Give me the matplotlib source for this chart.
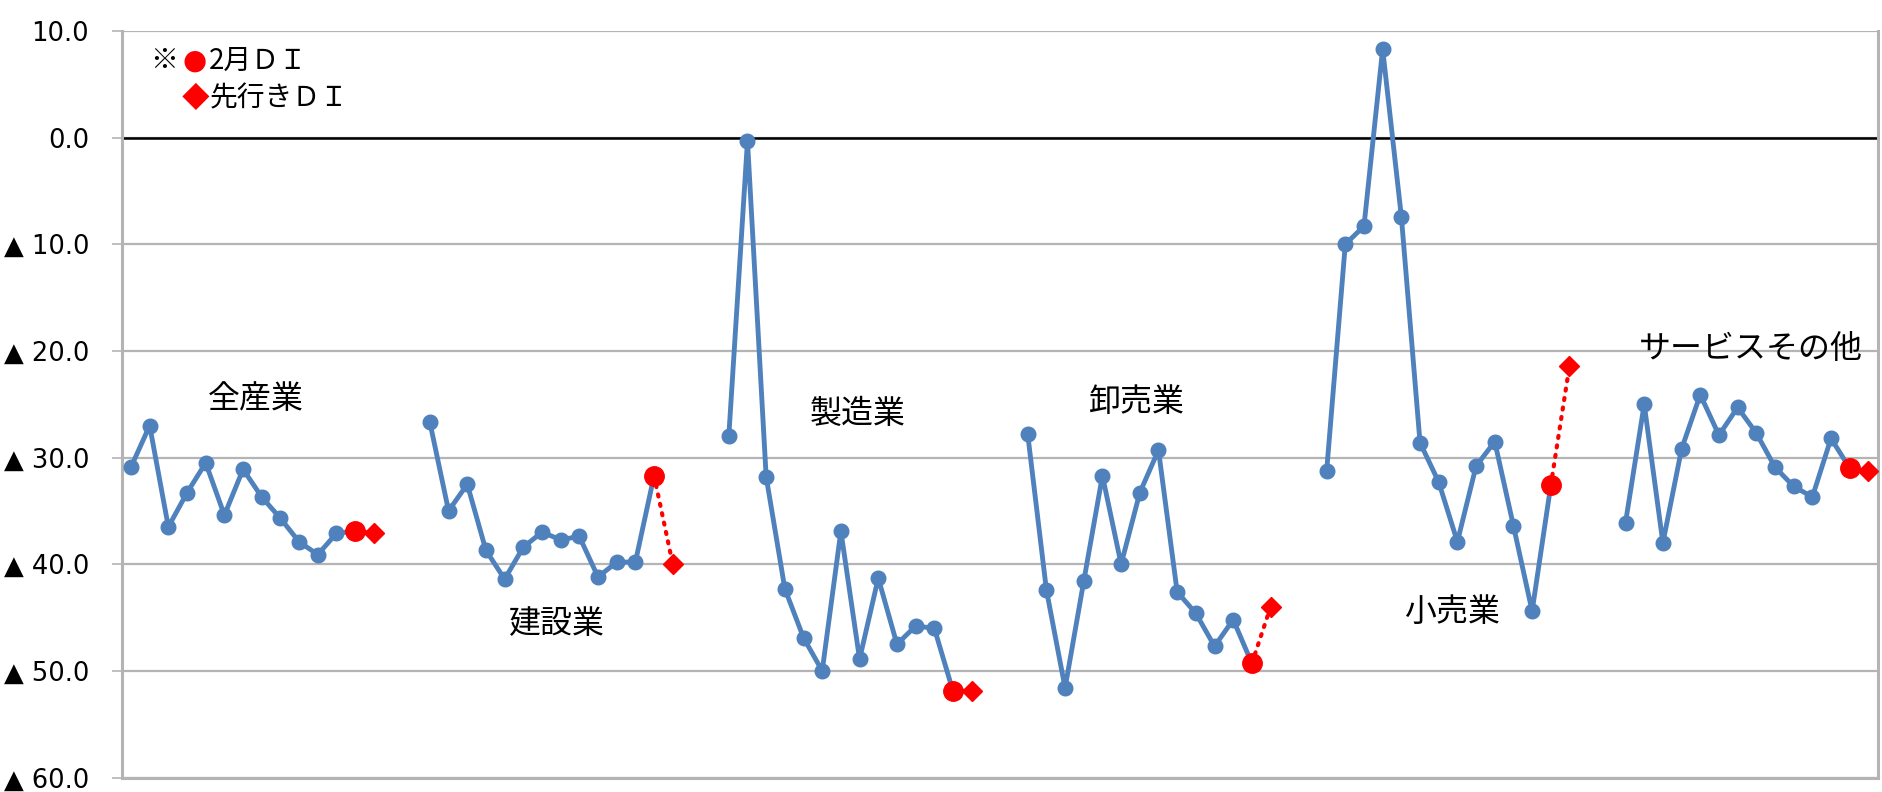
# 業種別DIの推移（過去12か月 + 2月DI + 先行きDI）
import matplotlib
matplotlib.use("Agg")
from matplotlib import pyplot as plt
from matplotlib.ticker import FuncFormatter, MultipleLocator

plt.rcParams['font.family'] = ['Noto Sans CJK JP', 'DejaVu Sans']

industries = ["全産業", "建設業", "製造業", "卸売業", "小売業", "サービスその他"]

# 過去12か月のDI（業種別）
past_all = [-30.9, -27.0, -36.5, -33.3, -30.5, -35.4, -31.1, -33.7, -35.7, -37.9, -39.1, -37.1]
past_const = [-26.7, -35.0, -32.5, -38.7, -41.4, -38.4, -37.0, -37.7, -37.4, -41.2, -39.8, -39.8]
past_manuf = [-28.0, -0.3, -31.8, -42.3, -46.9, -50.0, -36.9, -48.9, -41.3, -47.5, -45.8, -46.0]
past_whole = [-27.8, -42.4, -51.6, -41.6, -31.7, -40.0, -33.3, -29.3, -42.6, -44.6, -47.7, -45.2]
past_retail = [-31.3, -10.0, -8.3, 8.3, -7.4, -28.6, -32.3, -37.9, -30.8, -28.5, -36.4, -44.4]
past_service = [-36.1, -25.0, -38.0, -29.2, -24.1, -27.9, -25.3, -27.7, -30.9, -32.7, -33.7, -28.2]

# 2月DI と 先行きDI
feb_di = [-36.9, -31.7, -51.9, -49.3, -32.6, -31.0]
outlook_di = [-37.1, -40.0, -51.9, -44.0, -21.4, -31.3]

past = [past_all, past_const, past_manuf, past_whole, past_retail, past_service]

# ラベル位置（データ座標）
label_pos = [(6.7, -24.5), (22.8, -45.6), (38.9, -25.9), (53.8, -24.8), (70.7, -44.5), (86.7, -19.8)]

blue = "#4F81BD"
grid_gray = "#B4B4B4"
slot = 16  # 1業種あたりのカテゴリ数

fig = plt.figure(figsize=(18.83, 7.92), dpi=100)
ax = fig.add_axes([0.0646, 0.0183, 0.9326, 0.9426])

for g, vals in enumerate(past):
    x0 = g * slot
    series = vals + [feb_di[g]]
    xs = list(range(x0, x0 + len(series)))
    ax.plot(xs, series, color=blue, lw=3.5, marker="o", ms=10.5,
            mfc=blue, mec=blue, zorder=3)
    xf = x0 + len(vals)
    ax.plot([xf, xf + 1], [feb_di[g], outlook_di[g]], color="red", lw=3.0,
            ls=(0, (0.5, 1.8)), dash_capstyle="round", zorder=4)
    ax.plot([xf], [feb_di[g]], marker="o", ms=14, color="red", ls="none", zorder=5)
    ax.plot([xf + 1], [outlook_di[g]], marker="D", ms=10.5, color="red", ls="none", zorder=5)
    ax.text(label_pos[g][0], label_pos[g][1], industries[g], fontsize=23,
            ha="center", va="center", color="black")

ax.set_xlim(-0.5, 5 * slot + 13.5)
ax.set_ylim(-60, 10)
ax.yaxis.set_major_locator(MultipleLocator(10))

def fmt(v, pos):
    if v < 0:
        return "▲ %.1f" % (-v)
    return "%.1f" % v

ax.yaxis.set_major_formatter(FuncFormatter(fmt))
ax.tick_params(axis="y", length=7.5, width=1.2, color=grid_gray, pad=16, labelsize=18.5)
for lab in ax.get_yticklabels():
    lab.set_fontfamily("DejaVu Sans")
ax.set_xticks([])

ax.grid(axis="y", color=grid_gray, lw=1.6, zorder=0)
ax.axhline(0, color="black", lw=1.8, zorder=2)

for side in ["left", "bottom", "right"]:
    ax.spines[side].set_color(grid_gray)
    ax.spines[side].set_linewidth(2.2)
ax.spines["top"].set_visible(False)

# 凡例（テキスト）
lt = dict(transform=ax.transAxes, fontsize=20, va="center")
ax.text(0.0165, 0.960, "※", color="black", **lt)
ax.text(0.0345, 0.960, "●", color="red", fontfamily="DejaVu Sans", **lt)
ax.text(0.0495, 0.960, "2月ＤＩ", color="black", **lt)
ax.text(0.0340, 0.909, "◆", color="red", **lt)
ax.text(0.0500, 0.909, "先行きＤＩ", color="black", **lt)

fig.savefig("out.png", dpi=100, facecolor="white")
